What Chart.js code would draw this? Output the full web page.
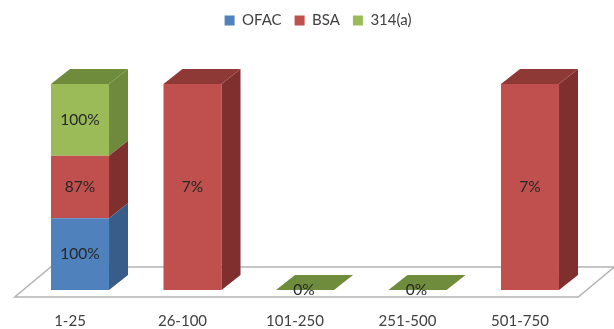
<!DOCTYPE html>
<html>
<head>
<meta charset="utf-8">
<style>
  html, body { margin: 0; padding: 0; background: #fff; }
  #wrap { width: 614px; height: 329px; }
</style>
<script src="https://cdn.jsdelivr.net/npm/chart.js@4"></script>
</head>
<body>
<div id="wrap"><canvas id="chart"></canvas></div>
<script>
const categories = ['1-25', '26-100', '101-250', '251-500', '501-750'];
const ofac = [100, null, null, null, null];
const bsa = [87, 7, null, null, 7];
const s314a = [100, null, 0, 0, null];

const seriesNames = ['OFAC', 'BSA', '314(a)'];
const seriesValues = [ofac, bsa, s314a];
const frontColors = ['#4f81bd', '#c0504d', '#9bbb59'];
const sideColors = ['#385d8a', '#7f302e', '#6f8a3c'];
const topColors = ['#41699c', '#8f3936', '#6f8c3d'];

const DEPTH_X = 19;
const DEPTH_Y = 15;
const TEXT = '#404040';
const FONT = 'Lato, "Open Sans", sans-serif';

// each column is stacked to 100%, so a bar height is its share of the column total
const totals = categories.map((c, i) =>
    seriesValues.reduce((sum, s) => sum + (s[i] || 0), 0));
const shares = seriesValues.map(s =>
    s.map((v, i) => (v === null ? null : (totals[i] ? v / totals[i] : 0))));

function poly(ctx, pts, color) {
    ctx.fillStyle = color;
    ctx.beginPath();
    pts.forEach((p, i) => (i ? ctx.lineTo(p[0], p[1]) : ctx.moveTo(p[0], p[1])));
    ctx.closePath();
    ctx.fill();
}

// the grey floor the columns stand on
const floorPlugin = {
    id: 'floor',
    beforeDatasetsDraw(chart) {
        const { ctx, chartArea, scales } = chart;
        const front = scales.y.getPixelForValue(0) + 7;
        const left = chartArea.left - 9;
        const right = chartArea.right - 8;
        ctx.save();
        ctx.strokeStyle = '#b4b4b4';
        ctx.lineWidth = 1.5;
        ctx.beginPath();
        ctx.moveTo(left, front);
        ctx.lineTo(right, front);
        ctx.lineTo(right + 36, front - 30);
        ctx.lineTo(left + 36, front - 30);
        ctx.closePath();
        ctx.stroke();
        ctx.restore();
    }
};

// side and top faces that give the flat bars their depth
const depthPlugin = {
    id: 'depth',
    afterDatasetDraw(chart, args) {
        const { ctx } = chart;
        const d = args.index;
        chart.getDatasetMeta(d).data.forEach((bar, i) => {
            if (seriesValues[d][i] === null) return;
            const p = bar.getProps(['x', 'y', 'base', 'width'], true);
            const x0 = p.x - p.width / 2;
            const x1 = p.x + p.width / 2;
            if (p.base - p.y > 0) {
                poly(ctx, [[x1, p.y], [x1 + DEPTH_X, p.y - DEPTH_Y],
                    [x1 + DEPTH_X, p.base - DEPTH_Y], [x1, p.base]], sideColors[d]);
            }
            const isTop = seriesValues.slice(d + 1).every(s => s[i] === null);
            if (isTop) {
                poly(ctx, [[x0, p.y], [x1, p.y], [x1 + DEPTH_X, p.y - DEPTH_Y],
                    [x0 + DEPTH_X, p.y - DEPTH_Y]], topColors[d]);
            }
        });
    }
};

// percent labels in the middle of each front face
const valueLabels = {
    id: 'valueLabels',
    afterDatasetsDraw(chart) {
        const { ctx } = chart;
        ctx.save();
        ctx.font = '15.5px ' + FONT;
        ctx.fillStyle = '#262626';
        ctx.textAlign = 'center';
        ctx.textBaseline = 'middle';
        seriesValues.forEach((s, d) => {
            chart.getDatasetMeta(d).data.forEach((bar, i) => {
                if (s[i] === null) return;
                const p = bar.getProps(['x', 'y', 'base'], true);
                ctx.fillText(s[i] + '%', p.x - (s[i] === 0 ? 1 : 0), (p.y + p.base) / 2);
            });
        });
        ctx.restore();
    }
};

// keeps the legend up top with a wide gap below, shifted a little right of centre
const legendRoom = {
    id: 'legendRoom',
    beforeInit(chart) {
        const fit = chart.legend.fit;
        chart.legend.fit = function () {
            fit.bind(chart.legend)();
            this.height = 84;
        };
    },
    afterLayout(chart) {
        chart.legend.left += 13;
        chart.legend.right += 13;
    }
};

new Chart(document.getElementById('chart'), {
    type: 'bar',
    data: {
        labels: categories,
        datasets: seriesNames.map((name, d) => ({
            label: name,
            data: shares[d],
            backgroundColor: frontColors[d],
            borderWidth: 0
        }))
    },
    options: {
        responsive: true,
        maintainAspectRatio: false,
        animation: false,
        datasets: { bar: { categoryPercentage: 0.516, barPercentage: 1 } },
        layout: { padding: { left: 23.75, right: 27.75, top: 0, bottom: 0 } },
        scales: {
            x: {
                stacked: true,
                grid: { display: false },
                border: { display: false },
                afterFit(scale) { scale.height = 39; },
                ticks: {
                    color: TEXT,
                    padding: 14,
                    labelOffset: -10,
                    maxRotation: 0,
                    font: { family: FONT, size: 15 }
                }
            },
            y: { stacked: true, display: false, min: 0, max: 1 }
        },
        plugins: {
            legend: {
                position: 'top',
                labels: {
                    color: TEXT,
                    boxWidth: 10,
                    boxHeight: 10,
                    padding: 13,
                    font: { family: FONT, size: 15 }
                }
            },
            tooltip: { enabled: false }
        }
    },
    plugins: [floorPlugin, depthPlugin, valueLabels, legendRoom]
});
</script>
</body>
</html>
